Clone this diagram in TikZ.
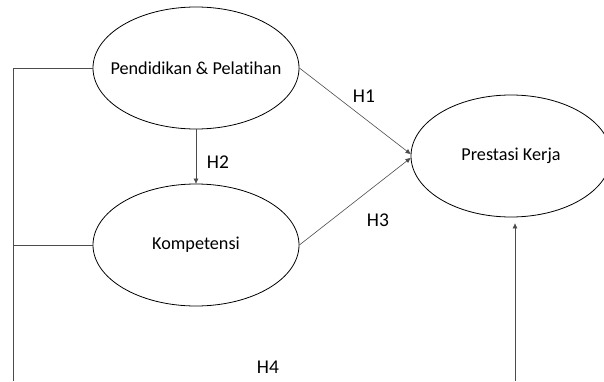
\documentclass[tikz,border=0pt]{standalone}
\usepackage{fontspec}
\setmainfont[Ligatures=NoCommon]{Carlito}
\usetikzlibrary{shapes.geometric,arrows.meta}
\begin{document}
\begin{tikzpicture}[x=1pt,y=1pt,>={Triangle[length=5pt,width=4.5pt]},
    var/.style={draw,ellipse,line width=0.8pt,inner sep=0pt,minimum width=206pt,minimum height=122pt,font=\fontsize{18.2}{21}\selectfont},
    conn/.style={draw=black!70,line width=0.6pt},
    hyp/.style={font=\fontsize{19.5}{22}\selectfont}]
            \useasboundingbox (0,0) rectangle (604,381);
            \node[var] (P) at (196,313) {\makebox[0pt]{Pendidikan \& Pelatihan}};
            \node[var] (K) at (196,136) {\makebox[0pt]{Kompetensi}};
            \node[var,minimum width=200pt] (R) at (511,225) {\makebox[0pt]{Prestasi Kerja}};
            \coordinate (h4l) at (13,0);
            \coordinate (h4r) at (515,0);
            \draw[conn,->] (P.south) -- (K.north);
            \draw[conn,->] (P.east) -- ([yshift=2pt]R.west);
            \draw[conn,->] (K.east) -- ([yshift=-2pt]R.west);
            \draw[conn] (P.west) -| (h4l);
            \draw[conn] (K.west) -- (K.west -| h4l);
            \draw[conn,->,shorten >=6pt] (h4r) -- (h4r |- R.south);
            \node[hyp] (h1) at (364,285) {H1};
            \node[hyp] (h2) at (218,219) {H2};
            \node[hyp] (h3) at (378,161) {H3};
            \node[hyp] (h4) at (268,14) {H4};
        \end{tikzpicture}
\end{document}
